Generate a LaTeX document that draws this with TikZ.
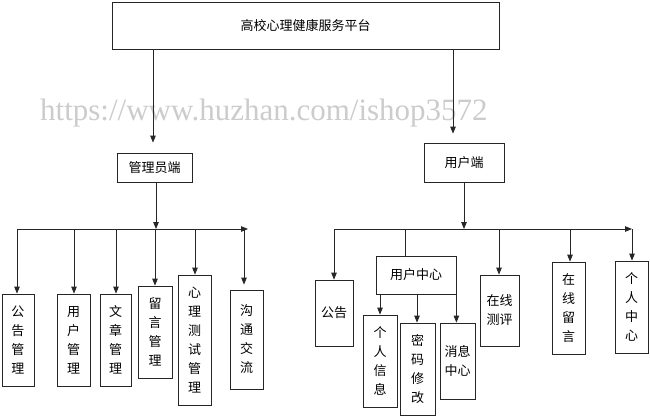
\documentclass[tikz,border=0pt]{standalone}
\usepackage{fontspec}
\usepackage{graphicx}
\newfontfamily\cjk{Noto Sans CJK SC}
\newfontfamily\wmfont{Liberation Serif}
\usetikzlibrary{arrows.meta}
\begin{document}
\begin{tikzpicture}[x=1pt,y=-1pt,
  box/.style={draw=black!85, line width=0.8pt, inner sep=0pt, align=center, font=\cjk\fontsize{13}{19}\selectfont},
  arr/.style={draw=black!85, line width=0.8pt, -{Triangle[length=7pt,width=5.5pt]}},
  ln/.style={draw=black!85, line width=0.8pt}]
\useasboundingbox[fill=white] (0,0) rectangle (650,416);
% watermark
\node[anchor=base west, text=gray!40, font=\wmfont\fontsize{31}{31}\selectfont, inner sep=0pt] (wm) at (40,120) {https://www.huzhan.com/ishop3572};
% top
\node[box, minimum width=387pt, minimum height=47pt] (top) at (305.5,25.5) {高校心理健康服务平台};
\node[box, minimum width=75pt, minimum height=29pt] (admin) at (154.5,167.5) {管理员端};
\node[box, minimum width=80pt, minimum height=39pt] (user) at (464,162.5) {用户端};
% admin children
\node[box, minimum width=32pt, minimum height=92pt] (a1) at (18,340) {公\\告\\管\\理};
\node[box, minimum width=33pt, minimum height=92pt] (a2) at (73.5,340) {用\\户\\管\\理};
\node[box, minimum width=31pt, minimum height=92pt] (a3) at (115.5,340) {文\\章\\管\\理};
\node[box, minimum width=34pt, minimum height=92pt] (a4) at (155,332) {留\\言\\管\\理};
\node[box, minimum width=33pt, minimum height=130pt] (a5) at (194.5,340) {心\\理\\测\\试\\管\\理};
\node[box, minimum width=33pt, minimum height=99pt] (a6) at (246.5,339.5) {沟\\通\\交\\流};
% user children
\node[box, minimum width=38pt, minimum height=66pt] (u1) at (334,313) {公告};
\node[box, minimum width=80pt, minimum height=38pt] (uc) at (416,275) {用户中心};
\node[box, minimum width=34pt, minimum height=92pt] (ucA) at (380,361) {个\\人\\信\\息};
\node[box, minimum width=35pt, minimum height=92pt] (ucB) at (417.5,369) {密\\码\\修\\改};
\node[box, minimum width=35pt, minimum height=76pt] (ucC) at (457.5,361) {消息\\中心};
\node[box, minimum width=39pt, minimum height=71pt] (u3) at (499.5,310.5) {在线\\测评};
\node[box, minimum width=33pt, minimum height=92pt] (u4) at (568.5,308) {在\\线\\留\\言};
\node[box, minimum width=33pt, minimum height=92pt] (u5) at (631.5,307) {个\\人\\中\\心};
% bus coordinates
\coordinate (busL) at (17,229);
\coordinate (busR) at (248,229);
\coordinate (busL2) at (334,229);
\coordinate (busR2) at (632,229);
% top connectors
\draw[arr] ([xshift=-1.5pt]admin.north |- top.south) -- ([xshift=-1.5pt,yshift=10pt]admin.north);
\draw[arr] ([xshift=-11pt]user.north |- top.south) -- ([xshift=-11pt,yshift=9pt]user.north);
% admin bus
\draw[arr] ([xshift=1.5pt]admin.south) -- ([xshift=1.5pt]admin.south |- busL);
\draw[arr] (busL) -- (busR);
\draw[arr] ([xshift=-1pt]a1.north |- busL) -- ([xshift=-1pt]a1.north);
\draw[arr] ([xshift=0.5pt]a2.north |- busL) -- ([xshift=0.5pt]a2.north);
\draw[arr] ([xshift=0.5pt]a3.north |- busL) -- ([xshift=0.5pt]a3.north);
\draw[arr] (a4.north |- busL) -- (a4.north);
\draw[arr] ([xshift=0.5pt]a5.north |- busL) -- ([xshift=0.5pt]a5.north);
\draw[arr] ([xshift=-2.5pt]a6.north |- busL) -- ([xshift=-2.5pt,yshift=5pt]a6.north);
% user bus
\draw[arr] (user.south) -- (user.south |- busL2);
\draw[arr] (busL2) -- (busR2);
\draw[arr] (u1.north |- busL2) -- (u1.north);
\draw[ln] ([xshift=-11pt]uc.north |- busL2) -- ([xshift=-11pt]uc.north);
\draw[arr] (ucA.north |- uc.south) -- (ucA.north);
\draw[arr] ([xshift=-0.5pt]ucB.north |- uc.south) -- ([xshift=-0.5pt]ucB.north);
\draw[arr] (uc.south east) -- (uc.south east |- ucC.north);
\draw[arr] ([xshift=-0.5pt]u3.north |- busL2) -- ([xshift=-0.5pt]u3.north);
\draw[arr] ([xshift=1.5pt]u4.north |- busL2) -- ([xshift=1.5pt]u4.north);
\draw[arr] ([xshift=0.5pt]u5.north |- busL2) -- ([xshift=0.5pt]u5.north);
\end{tikzpicture}
\end{document}
